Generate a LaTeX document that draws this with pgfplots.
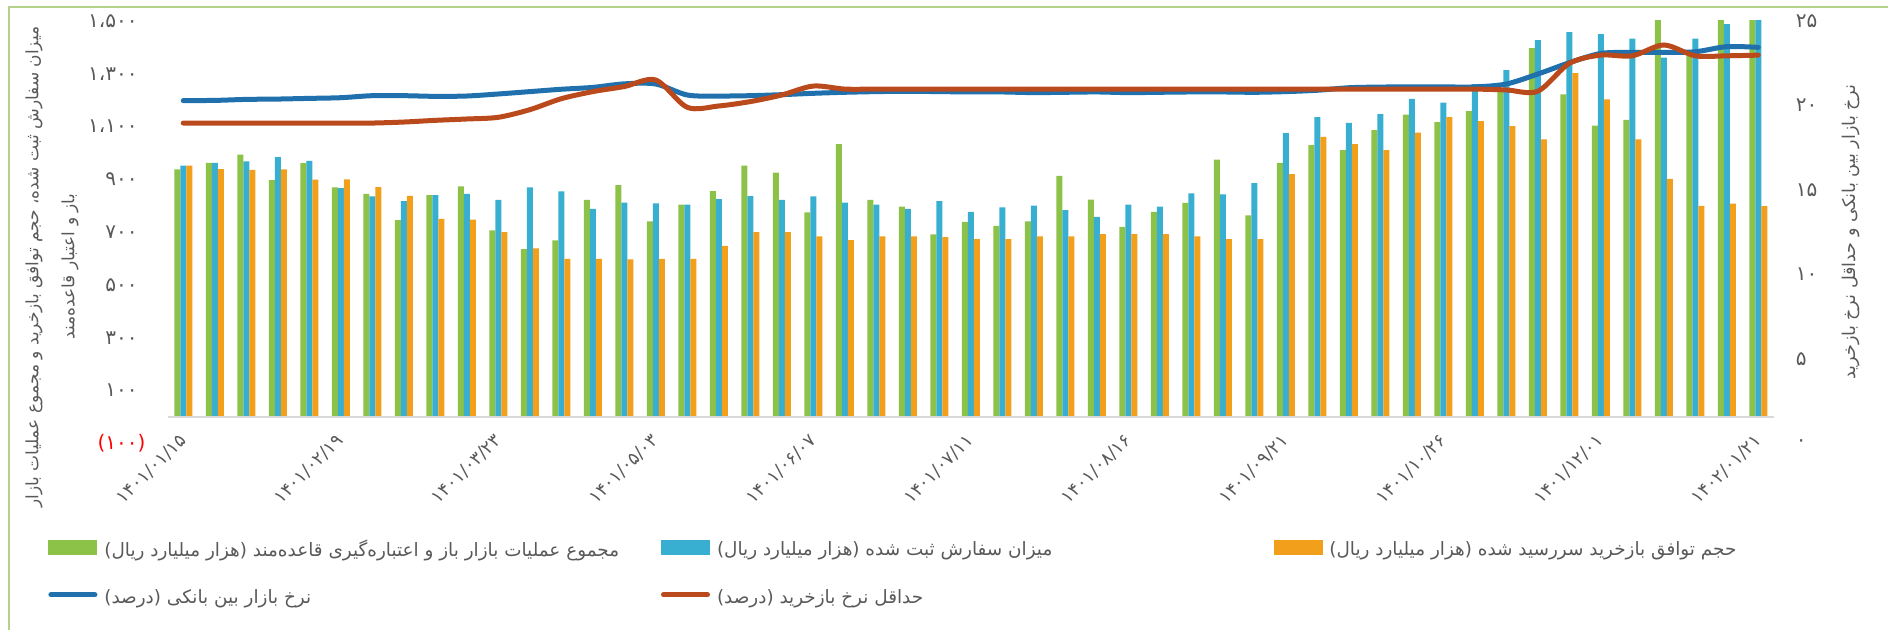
\documentclass[border=0pt]{standalone}
\usepackage{pgfplots}
\usepackage{pgfplotstable}
\pgfplotsset{compat=1.18}
\usepackage{fontspec}
\setmainfont{DejaVu Sans}
\newfontfamily\pfont[Script=Arabic]{DejaVu Sans}
\TeXXeTstate=1
\newcommand{\fs}[1]{\fontsize{#1}{#1}\selectfont}
\definecolor{cg}{HTML}{8DC249}
\definecolor{cb}{HTML}{38AFD0}
\definecolor{co}{HTML}{F29F1C}
\definecolor{lb}{HTML}{1F70AC}
\definecolor{lo}{HTML}{BA4A1B}
\definecolor{tg}{HTML}{595959}
\definecolor{fr}{HTML}{B3D18A}

\pgfplotstableread{
x g b o
0 938 952 952
1 963 963 939
2 994 968 936
3 897 984 938
4 962 970 899
5 870 867 900
6 845 836 871
7 746 818 838
8 840 840 750
9 874 845 748
10 707 822 700
11 636 870 639
12 669 855 599
13 822 788 599
14 878 812 597
15 741 809 599
16 804 804 599
17 856 825 648
18 952 837 700
19 926 822 700
20 775 836 684
21 1034 812 670
22 822 804 684
23 797 788 684
24 692 818 681
25 739 777 674
26 724 794 674
27 741 801 684
28 913 784 684
29 823 758 693
30 720 804 693
31 777 797 693
32 811 847 684
33 975 843 674
34 764 886 674
35 963 1075 920
36 1030 1136 1061
37 1011 1114 1034
38 1087 1147 1011
39 1145 1205 1077
40 1117 1191 1136
41 1159 1261 1121
42 1239 1314 1102
43 1397 1428 1052
44 1222 1458 1303
45 1104 1450 1203
46 1125 1433 1052
47 1520 1361 902
48 1370 1433 800
49 1520 1488 808
50 1520 1520 799
}\bars

\pgfplotstableread{
x ib rp
0 20.29 18.96
1 20.30 18.96
2 20.36 18.96
3 20.38 18.96
4 20.42 18.96
5 20.46 18.96
6 20.58 18.96
7 20.58 19.02
8 20.54 19.12
9 20.56 19.20
10 20.68 19.30
11 20.82 19.75
12 20.96 20.40
13 21.07 20.82
14 21.28 21.12
15 21.27 21.51
16 20.62 19.89
17 20.56 19.97
18 20.58 20.23
19 20.64 20.62
20 20.72 21.15
21 20.78 20.97
22 20.82 20.97
23 20.84 20.97
24 20.82 20.97
25 20.80 20.97
26 20.80 20.97
27 20.76 20.97
28 20.78 20.97
29 20.80 20.97
30 20.76 20.97
31 20.78 20.97
32 20.80 20.97
33 20.80 20.97
34 20.78 20.97
35 20.82 20.97
36 20.90 20.97
37 21.05 20.97
38 21.09 20.97
39 21.10 20.97
40 21.10 20.97
41 21.10 20.97
42 21.27 20.92
43 21.86 20.84
44 22.53 22.49
45 23.08 22.98
46 23.14 22.94
47 23.14 23.58
48 23.18 22.94
49 23.48 22.94
50 23.44 22.98
}\rates

\begin{document}
\begin{tikzpicture}
\begin{axis}[
  at={(0pt,0pt)}, anchor=south west,
  scale only axis, width=803.25pt, height=211.2pt,
  xmin=-0.5, xmax=50.5, ymin=-100, ymax=1500,
  axis line style={draw=none},
  major tick length=0pt,
  xtick={0,5,...,50},
  xticklabels={۱۴۰۱/۰۱/۱۵, ۱۴۰۱/۰۲/۱۹, ۱۴۰۱/۰۳/۲۳, ۱۴۰۱/۰۵/۰۳, ۱۴۰۱/۰۶/۰۷, ۱۴۰۱/۰۷/۱۱, ۱۴۰۱/۰۸/۱۶, ۱۴۰۱/۰۹/۲۱, ۱۴۰۱/۱۰/۲۶, ۱۴۰۱/۱۲/۰۱, ۱۴۰۲/۰۱/۲۱},
  xticklabel style={yshift=3.2pt, rotate=45, anchor=east, inner sep=0pt, font=\fs{9}, text=tg},
  ytick={-100,100,...,1500},
  yticklabels={{\textcolor{red}{(۱۰۰\rlap{)}}},۱۰۰,۳۰۰,۵۰۰,۷۰۰,۹۰۰,۱،۱۰۰,۱،۳۰۰,۱،۵۰۰},
  yticklabel style={anchor=east, inner sep=0pt, xshift=-14.75pt, font=\fs{10}, text=tg},
  ybar=0pt, bar width=3pt,
]
\addplot[fill=cg, draw=none] table[x=x, y=g]{\bars};
\addplot[fill=cb, draw=none] table[x=x, y=b]{\bars};
\addplot[fill=co, draw=none] table[x=x, y=o]{\bars};
\draw[black!15, line width=1pt] (axis cs:-0.5,0) -- (axis cs:50.5,0);
\end{axis}
\begin{axis}[
  at={(0pt,0pt)}, anchor=south west,
  scale only axis, width=803.25pt, height=211.2pt,
  xmin=-0.5, xmax=50.5, ymin=0, ymax=25,
  axis y line*=right, axis x line=none,
  axis line style={draw=none},
  major tick length=0pt,
  ytick={0,5,...,25},
  yticklabels={۰,۵,۱۰,۱۵,۲۰,۲۵},
  yticklabel style={anchor=west, inner sep=0pt, xshift=10.75pt, font=\fs{10}, text=tg},
  legend columns=3,
  legend cell align=left,
  legend style={at={(0,0)}, anchor=north west, xshift=-62.75pt, yshift=-44pt,
    draw=none, fill=none, font=\pfont\fs{9.2}, text=tg, row sep=11pt,
    /tikz/every odd column/.append style={column sep=1.5pt}},
]
\addlegendimage{legend image code/.code={\fill[cg] (0pt,-2.3pt) rectangle (24pt,4.7pt);}}
\addlegendentry{\makebox[276.3pt][l]{\beginR مجموع عملیات بازار باز و اعتباره‌گیری قاعده‌مند (هزار میلیارد ریال)\endR}}
\addlegendimage{legend image code/.code={\fill[cb] (0pt,-2.3pt) rectangle (24pt,4.7pt);}}
\addlegendentry{\makebox[276.3pt][l]{\beginR میزان سفارش ثبت شده (هزار میلیارد ریال)\endR}}
\addlegendimage{legend image code/.code={\fill[co] (0pt,-2.3pt) rectangle (24pt,4.7pt);}}
\addlegendentry{\makebox[276.3pt][l]{\beginR حجم توافق بازخرید سررسید شده (هزار میلیارد ریال)\endR}}
\addlegendimage{legend image code/.code={\draw[lb, line width=2.5pt, line cap=round] (1pt,1.5pt) -- (23pt,1.5pt);}}
\addlegendentry{\makebox[276.3pt][l]{\beginR نرخ بازار بین بانکی (درصد)\endR}}
\addlegendimage{legend image code/.code={\draw[lo, line width=2.5pt, line cap=round] (1pt,1.5pt) -- (23pt,1.5pt);}}
\addlegendentry{\makebox[276.3pt][l]{\beginR حداقل نرخ بازخرید (درصد)\endR}}
\addplot[forget plot, lb, line width=2.5pt, smooth, tension=0.5, line cap=round] table[x=x, y=ib]{\rates};
\addplot[forget plot, lo, line width=2.5pt, smooth, tension=0.5, line cap=round] table[x=x, y=rp]{\rates};
\end{axis}
\node[rotate=90, align=center, text=tg, font=\pfont\fontsize{8.5}{18}\selectfont] at (-57.75pt,88.2pt)
  {\beginR میزان سفارش ثبت شده، حجم توافق بازخرید و مجموع عملیات بازار\endR\\\beginR باز و اعتبار قاعده‌مند\endR};
\node[rotate=90, text=tg, font=\pfont\fs{8.8}] at (841.75pt,105.7pt)
  {\beginR نرخ بازار بین بانکی و حداقل نرخ بازخرید\endR};
\draw[fr, line width=1pt] (-79.25pt,-93.3pt) -- (-79.25pt,218.2pt) -- (860.25pt,218.2pt);
\pgfresetboundingbox
\path[use as bounding box] (-83.75pt,-93.3pt) rectangle (860.25pt,221.7pt);
\end{tikzpicture}
\end{document}
